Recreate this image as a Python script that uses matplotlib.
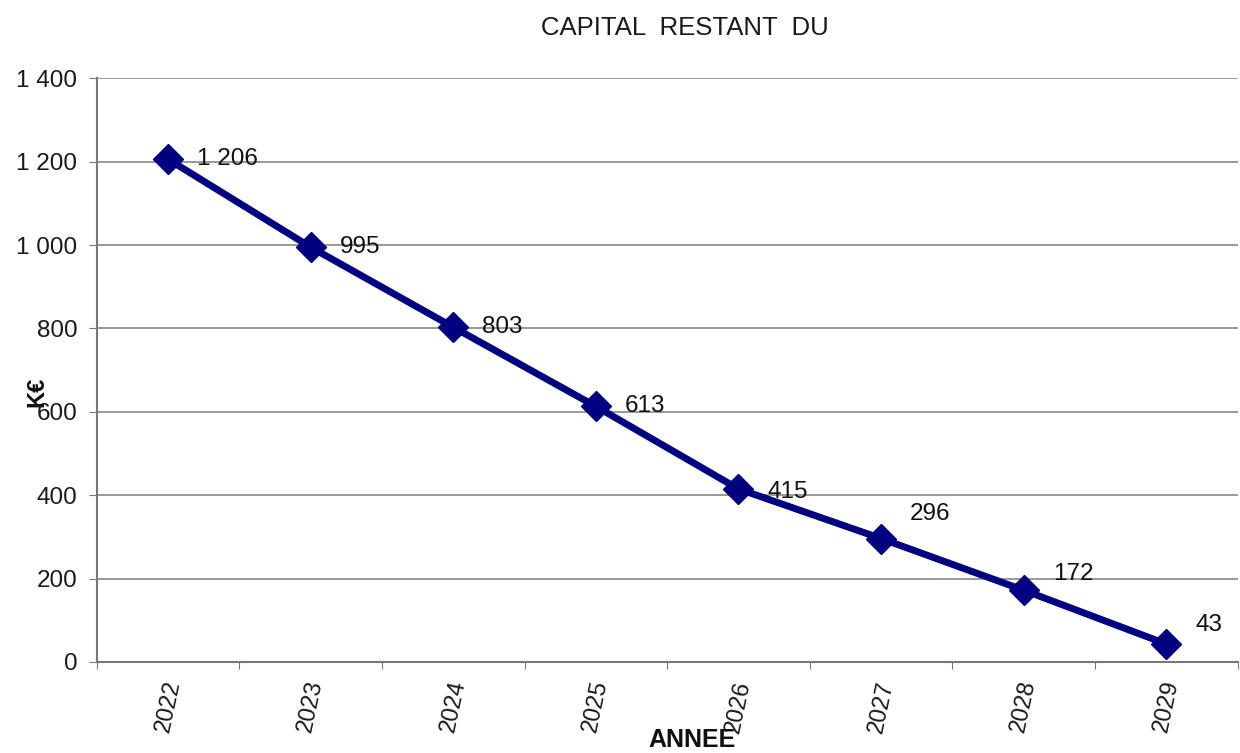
import numpy as np
import matplotlib.pyplot as plt

annees = ["2022", "2023", "2024", "2025", "2026", "2027", "2028", "2029"]
capital = [1206, 995, 803, 613, 415, 296, 172, 43]
etiquettes = ["1 206", "995", "803", "613", "415", "296", "172", "43"]
yticks = [0, 200, 400, 600, 800, 1000, 1200, 1400]
ytick_labels = ["0", "200", "400", "600", "800", "1 000", "1 200", "1 400"]
# decalage vertical des etiquettes (points), comme dans Excel
label_dy = [0, 0, 0, 0, -2, 18, 12, 14]

plt.rcParams['font.family'] = ['Liberation Sans', 'DejaVu Sans']

fig = plt.figure(figsize=(12.4, 7.53), dpi=100)
ax = fig.add_axes([0.078, 0.121, 0.92, 0.775])

x = np.arange(len(annees)) + 0.5
ax.plot(x, capital, color="#000080", linewidth=5, marker="D", markersize=15,
        markeredgecolor="#000080", zorder=3, clip_on=False)

for i, val in enumerate(capital):
    ax.annotate(etiquettes[i], (x[i], val), xytext=(21, label_dy[i]),
                textcoords="offset points", fontsize=17.5, va="center", ha="left",
                color="#111111", zorder=4)

ax.set_xlim(0, len(annees))
ax.set_ylim(0, 1400)
ax.set_yticks(yticks)
ax.set_yticklabels(ytick_labels, fontsize=17.5, color="#1a1a1a")
ax.set_xticks(np.arange(len(annees) + 1))
ax.set_xticklabels([])
ax.set_xticks(x, minor=True)
ax.set_xticklabels(annees, minor=True, rotation=78, fontsize=17, color="#1a1a1a",
                   ha="center", va="top")
ax.tick_params(axis="x", which="minor", length=0, pad=12)
ax.tick_params(axis="x", which="major", length=5, direction="out", color="#777777")
ax.tick_params(axis="y", length=6, direction="out", color="#777777", pad=8)

ax.grid(axis="y", color="#888888", linewidth=1.2)
ax.set_axisbelow(True)
for s in ["top", "right"]:
    ax.spines[s].set_visible(False)
for s in ["left", "bottom"]:
    ax.spines[s].set_color("#777777")
    ax.spines[s].set_linewidth(1.5)

fig.text(0.552, 0.963, "CAPITAL  RESTANT  DU", ha="center", va="center", fontsize=18.5,
         color="#1a1a1a")
fig.text(0.558, 0.017, "ANNEE", ha="center", va="center", fontsize=18,
         fontweight="bold", color="#111111")
fig.text(0.03, 0.48, "K€", ha="center", va="center", fontsize=17, rotation=90,
         fontweight="bold", color="#111111")

fig.savefig("out.png", dpi=100)
